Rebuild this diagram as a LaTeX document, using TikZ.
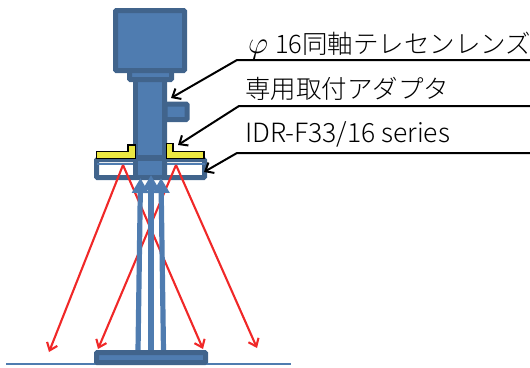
\documentclass[tikz,border=0pt]{standalone}
\usepackage{fontspec}
\setmainfont{Noto Sans CJK JP Light}
\usetikzlibrary{arrows.meta}
\definecolor{bluefill}{RGB}{79,124,176}
\definecolor{bluedark}{RGB}{65,100,140}
\definecolor{yel}{RGB}{236,232,66}
\definecolor{redarrow}{RGB}{240,40,40}
\tikzset{
 body/.style={draw=bluedark,fill=bluefill,line width=5pt,rounded corners=1pt},
 plate/.style={draw=black,fill=yel,line width=1.1pt},
 beam/.style={draw=redarrow,line width=2.1pt,-{Straight Barb[length=7pt,width=11pt,line width=2.1pt]}},
 lead/.style={draw=black,line width=2pt,-{Straight Barb[length=7pt,width=12pt,line width=2pt]}},
 rise/.style={draw=bluefill,line width=5.2pt,-{Triangle[length=15pt,width=16pt,fill=bluefill]}},
 lab/.style={anchor=base west,font=\fontsize{25.5}{26}\selectfont,inner sep=0pt,text=black},
}
\begin{document}
\begin{tikzpicture}[x=1pt,y=-1pt]
\useasboundingbox (0,0) rectangle (530,367);
% ground
\coordinate (g1) at (6,364); \coordinate (g2) at (291,364);
\draw[draw=bluefill,line width=1.8pt] (g1)--(g2);
% rays up
\coordinate (u1) at (138,351); \coordinate (u1t) at (140.5,178);
\coordinate (u2) at (151,353); \coordinate (u2t) at (151,175);
\coordinate (u3) at (163.5,351); \coordinate (u3t) at (161,178);
% housing ring
\draw[body,fill=white] (96.5,159.5) rectangle (204.5,177.5);
\draw[draw=bluefill,line width=1.5pt] (97,164)--(205,164);
% barrel
\draw[body] (135.5,78) rectangle (164.5,177);
\fill[bluedark] (133,155) rectangle (167,161);
\draw[body] (165,104) rectangle (187,119.5);
\fill[bluefill] (138,80) rectangle (162,155);
\fill[bluefill] (138,161) rectangle (162,175);
% collar, camera
\draw[body] (129.5,70) rectangle (171.5,79.5);
\draw[body] (115.5,10.5) rectangle (184.5,70.5);
% yellow plates
\draw[plate] (96.5,151.5) -- (128,151.5) -- (128,145) -- (135.5,145) -- (135.5,158.5) -- (96.5,158.5) -- cycle;
\draw[plate] (166.5,143.5) -- (173,143.5) -- (173,151.5) -- (204,151.5) -- (204,158.5) -- (166.5,158.5) -- cycle;
% red beams
\coordinate (a) at (123,165); \coordinate (b) at (176,165);
\coordinate (r1) at (49,352); \coordinate (r2) at (98,349);
\coordinate (r3) at (203,349); \coordinate (r4) at (257,348);
\draw[beam] (a)--(r1);
\draw[beam] (a)--(r3);
\draw[beam] (b)--(r2);
\draw[beam] (b)--(r4);
% blue arrows
\draw[rise] (u1)--(u1t);
\draw[rise] (u3)--(u3t);
\draw[rise] (u2)--(u2t);
% base
\draw[body] (96.5,352.5) rectangle (205.5,362.5);
% leaders
\coordinate (l1s) at (530,60); \coordinate (l1m) at (237,60); \coordinate (l1e) at (171,98);
\coordinate (l2s) at (530,106); \coordinate (l2m) at (239,106); \coordinate (l2e) at (178,145);
\coordinate (l3s) at (530,153); \coordinate (l3m) at (237,153); \coordinate (l3e) at (204,172);
\draw[lead] (l1s)--(l1m)--(l1e);
\draw[lead] (l2s)--(l2m)--(l2e);
\draw[lead] (l3s)--(l3m)--(l3e);
% labels
\node[lab] (t1) at (248,53) {\scalebox{1.25}{$\varphi$}\hspace{7pt}16同軸テレセンレンズ};
\node[lab] (t2) at (245,98) {専用取付アダプタ};
\node[lab,font=\fontsize{26.5}{27}\selectfont] (t3) at (245,142) {IDR-F33/16 series};
\end{tikzpicture}
\end{document}
